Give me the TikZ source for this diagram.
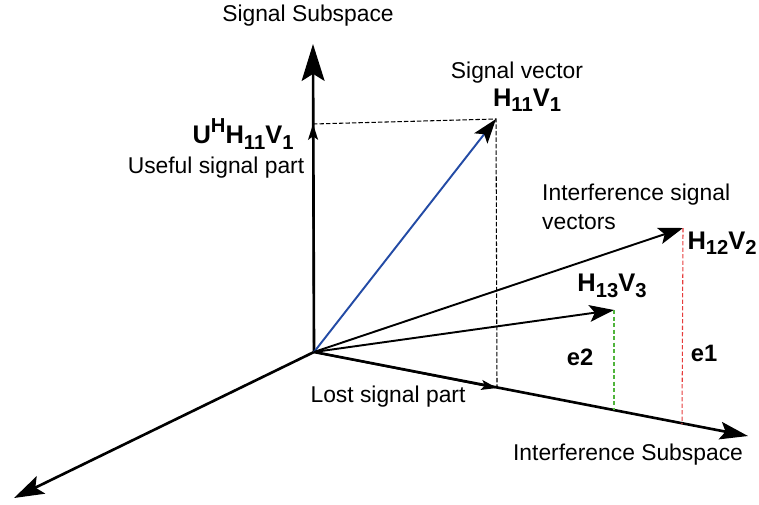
\documentclass[tikz,border=0pt]{standalone}
\usepackage{fontspec}
\setmainfont{Liberation Sans}
\usetikzlibrary{arrows.meta}
\definecolor{sigblue}{RGB}{35,75,165}
\definecolor{errred}{RGB}{230,60,60}
\definecolor{errgreen}{RGB}{80,180,60}
\tikzset{>=Stealth,every node/.style={font=\fontsize{13}{16.4}\selectfont},
axis/.style={line width=1.5pt,-{Stealth[length=21pt,width=13pt,inset=4pt]}},
vec/.style={line width=1.1pt,-{Stealth[length=14pt,width=9.5pt,inset=3pt]}},
part/.style={line width=1.1pt,-{Stealth[length=9pt,width=5.7pt,inset=2pt]}},
proj/.style={line width=.6pt,dash pattern=on 2.5pt off 1.2pt},
lab/.style={font=\fontsize{13.5}{16}\selectfont\bfseries},
vlab/.style={font=\fontsize{14.5}{17}\selectfont\bfseries}}
\newcommand{\sbs}[1]{\raisebox{-.4ex}{\fontsize{11.5}{14}\selectfont#1}}
\newcommand{\sps}[1]{\raisebox{.8ex}{\fontsize{11.5}{14}\selectfont#1}}
\begin{document}
\begin{tikzpicture}[x=0.02cm,y=-0.02cm]
\useasboundingbox (0,0) rectangle (759,504);
% axes and projection points
\coordinate (O) at (314,352);
\coordinate (sig) at (313,44);
\coordinate (intf) at (748,436);
\coordinate (third) at (14,498);
\coordinate (use) at (313,124);
\coordinate (s1) at (496,119);
\coordinate (lost) at (497,388);
\coordinate (s2) at (683,228);
\coordinate (s3) at (614,310);
\coordinate (e1b) at (682,424);
\coordinate (e2b) at (614,410);
\draw[axis] (O) -- (sig);
\draw[axis,-{Stealth[length=16pt,width=10pt,inset=3pt]}] (O) -- (intf);
\draw[axis,-{Stealth[length=17pt,width=11pt,inset=3.5pt]}] (O) -- (third);
\draw[part] (O) -- (use);
\draw[part] (O) -- (lost);
\draw[proj] (use) -- (s1) -- (lost);
\draw[vec,draw=sigblue,-{Stealth[black,length=14pt,width=9.5pt,inset=3pt]}] (O) -- (s1);
\draw[vec] (O) -- (s2);
\draw[vec] (O) -- (s3);
\draw[proj,errred] (s2) -- (e1b);
\draw[proj,errgreen] (s3) -- (e2b);
% labels
\node (sigsub) at (308,16) {Signal Subspace};
\node (sigvec) at (517,73) {Signal vector};
\node[vlab] (h11) at (527,100) {H\sbs{11}V\sbs{1}};
\node[vlab] (uh) at (243,134) {U\sps{H}H\sbs{11}V\sbs{1}};
\node (useful) at (216,168) {Useful signal part};
\node[align=left,anchor=west] (intvec) at (536,207) {Interference signal\\vectors};
\node[vlab,anchor=east,inner sep=0pt] (h12) at (757,243) {H\sbs{12}V\sbs{2}};
\node[vlab] (h13) at (612,286) {H\sbs{13}V\sbs{3}};
\node[lab] (e2) at (580,357) {e2};
\node[lab] (e1) at (704,353) {e1};
\node (lostlab) at (388,397) {Lost signal part};
\node (intsub) at (628,455) {Interference Subspace};
\end{tikzpicture}
\end{document}
